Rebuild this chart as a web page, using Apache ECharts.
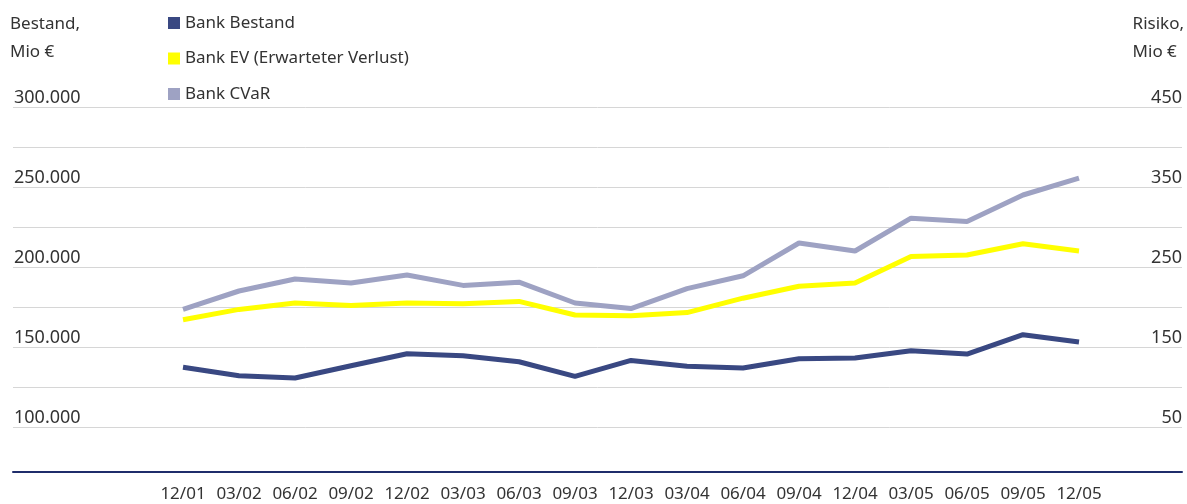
<!DOCTYPE html>
<html>
<head>
<meta charset="utf-8">
<script src="https://cdn.jsdelivr.net/npm/echarts@6/dist/echarts.min.js"></script>
<style>
html,body{margin:0;padding:0;background:#fff;}
#chart{width:1187px;height:504px;}
</style>
</head>
<body>
<div id="chart"></div>
<script>
const categories = ['12/01','03/02','06/02','09/02','12/02','03/03','06/03','09/03','12/03','03/04','06/04','09/04','12/04','03/05','06/05','09/05','12/05'];
const bankBestand = [137300,132000,130600,138300,145800,144600,140800,131600,141600,137900,136900,142700,143100,147700,145600,157700,153100];
const bankEV = [184,197,205,202,205,204,207,190,189,193,211,226,230,263,265,279,270];
const bankCVaR = [197,220,235,230,240,227,231,205,198,223,239,280,270,311,307,340,361];
const leftTickLabels = [100000,150000,200000,250000,300000];
const rightTickLabels = [50,150,250,350,450];

const FONT = 'Noto Sans';
const TXT = '#333333';
const chart = echarts.init(document.getElementById('chart'), null, {renderer:'canvas'});

const x0 = 183, step = 56, gl = 13, gr = 1182;
const xmin = (gl - x0) / step, xmax = (gr - x0) / step;

function fmtThousands(v){
  return String(Math.round(v)).replace(/\B(?=(\d{3})+(?!\d))/g, '.');
}

chart.setOption({
  animation:false,
  textStyle:{fontFamily:FONT},
  grid:{left:gl, right:1187-gr, top:107, bottom:37, containLabel:false},
  legend:{
    orient:'vertical', left:163, top:8, itemWidth:12, itemHeight:12, itemGap:15.5,
    icon:'rect',
    textStyle:{fontFamily:FONT, fontSize:17, color:TXT, lineHeight:20},
    data:['Bank Bestand','Bank EV (Erwarteter Verlust)','Bank CVaR']
  },
  graphic:[
    {type:'text', left:10, top:10, style:{text:'Bestand,\nMio €', font:'17px "Noto Sans"', fill:TXT, lineHeight:28}},
    {type:'text', right:3, top:10, style:{text:'Risiko,\nMio €', font:'17px "Noto Sans"', fill:TXT, lineHeight:28, align:'right'}}
  ],
  xAxis:{
    type:'value', position:'bottom', min:xmin, max:xmax, offset:5,
    axisLine:{show:true, onZero:false, lineStyle:{color:'#1f2d6b', width:2}},
    axisTick:{show:false},
    splitLine:{show:false},
    axisLabel:{
      customValues:categories.map((c,i)=>i),
      formatter:v=>categories[Math.round(v)] || '',
      fontFamily:FONT, fontSize:17, color:TXT, margin:14
    }
  },
  yAxis:[
    {
      type:'value', position:'left', min:75000, max:300000, interval:25000,
      axisLine:{show:false}, axisTick:{show:false},
      splitLine:{show:true, showMinLine:false, lineStyle:{color:'#d6d6d6', width:1}},
      axisLabel:{
        inside:true, margin:1, customValues:leftTickLabels,
        formatter:v=>fmtThousands(v),
        fontFamily:FONT, fontSize:18, color:TXT, verticalAlign:'bottom', lineHeight:18
      }
    },
    {
      type:'value', position:'right', min:0, max:450, interval:50,
      axisLine:{show:false}, axisTick:{show:false}, splitLine:{show:false},
      axisLabel:{
        inside:true, margin:0, customValues:rightTickLabels,
        formatter:v=>String(v),
        fontFamily:FONT, fontSize:18, color:TXT, verticalAlign:'bottom', lineHeight:18
      }
    }
  ],
  series:[
    {name:'Bank Bestand', type:'line', yAxisIndex:0, symbol:'none', color:'#394882',
     lineStyle:{width:5, color:'#394882'}, data:bankBestand.map((v,i)=>[i,v])},
    {name:'Bank EV (Erwarteter Verlust)', type:'line', yAxisIndex:1, symbol:'none', color:'#ffff00',
     lineStyle:{width:5, color:'#ffff00'}, data:bankEV.map((v,i)=>[i,v])},
    {name:'Bank CVaR', type:'line', yAxisIndex:1, symbol:'none', color:'#9ea2c3',
     lineStyle:{width:5, color:'#9ea2c3'}, data:bankCVaR.map((v,i)=>[i,v])}
  ]
});
</script>
</body>
</html>
